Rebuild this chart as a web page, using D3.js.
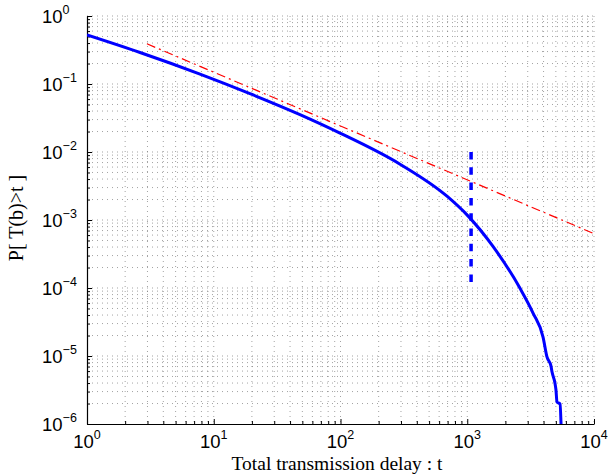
<!DOCTYPE html>
<html>
<head>
<meta charset="utf-8">
<script src="https://cdn.jsdelivr.net/npm/d3@7"></script>
<style>
  body { margin: 0; background: #fff; }
  svg { display: block; }
</style>
</head>
<body>
<div id="chart"></div>
<script>
// data
const ccdfT = [1, 2.62, 7.79, 19.3, 47.9, 99.1, 295, 692, 1000, 1596, 2608, 3304, 3963, 4256, 4579, 4667, 4920, 5012, 5105, 5395, 5495];
const ccdfP = [0.526, 0.2905, 0.1399, 0.0722, 0.0355, 0.019, 0.00662, 0.00224, 0.00118, 0.000409, 9.9e-5, 4.28e-5, 1.9e-5, 9.7e-6, 7.1e-6, 5.8e-6, 4.0e-6, 3.16e-6, 2.1e-6, 1.97e-6, 1e-6];
const fitT = [2.97, 10000];
const fitP = [0.39, 6.3e-4];
const markT = [1072, 1072];
const markP = [0.01, 1.15e-4];
const xDecades = [0, 1, 2, 3, 4];
const yDecades = [0, -1, -2, -3, -4, -5, -6];

const W = 608, H = 476;
const margin = { top: 16, right: 14, bottom: 52, left: 87 };
const width = W - margin.left - margin.right,
      height = H - margin.top - margin.bottom;

const svg = d3.select("#chart").append("svg")
  .attr("width", W).attr("height", H);

const g = svg.append("g")
  .attr("transform", `translate(${margin.left},${margin.top})`);

const x = d3.scaleLog().domain([1, 1e4]).range([0, width]);
const y = d3.scaleLog().domain([1e-6, 1]).range([height, 0]);

// minor + major tick values
const xTicksAll = [];
for (let e = 0; e < 4; e++) for (let m = 1; m < 10; m++) xTicksAll.push(m * Math.pow(10, e));
xTicksAll.push(1e4);
const yTicksAll = [];
for (let e = -6; e < 0; e++) for (let m = 1; m < 10; m++) yTicksAll.push(m * Math.pow(10, e));
yTicksAll.push(1);
const isMajor = v => Math.abs(Math.log10(v) - Math.round(Math.log10(v))) < 1e-9;

// dotted grid
const grid = g.append("g")
  .attr("stroke", "#000").attr("stroke-width", 0.6)
  .attr("stroke-dasharray", "1,4").attr("opacity", 0.6);
grid.selectAll("line.vx").data(xTicksAll.slice(1)).join("line")
  .attr("x1", d => x(d)).attr("x2", d => x(d))
  .attr("y1", 0).attr("y2", height);
grid.selectAll("line.hy").data(yTicksAll.slice(1)).join("line")
  .attr("y1", d => y(d)).attr("y2", d => y(d))
  .attr("x1", 0).attr("x2", width);

// axes (ticks pointing inward, no box)
const axL = g.append("g")
  .call(d3.axisLeft(y).tickValues(yTicksAll).tickFormat("").tickSizeOuter(0)
    .tickSizeInner(-3));
axL.selectAll(".tick line").attr("x2", d => isMajor(d) ? 5 : 3);
const axB = g.append("g").attr("transform", `translate(0,${height})`)
  .call(d3.axisBottom(x).tickValues(xTicksAll).tickFormat("").tickSizeOuter(0)
    .tickSizeInner(-3));
axB.selectAll(".tick line").attr("y2", d => isMajor(d) ? -5 : -3);
g.selectAll(".domain").attr("stroke", "#000").attr("stroke-width", 1.2);

// tick labels with superscripts
const tickFont = "'Liberation Sans', Arial, Helvetica, sans-serif";
const supText = e => (e < 0 ? "\u2212" + (-e) : String(e));

const yl = g.append("g").attr("font-family", tickFont).attr("fill", "#000");
yDecades.forEach(e => {
  const t = yl.append("text")
    .attr("x", 42 - margin.left).attr("y", y(Math.pow(10, e)) + 7)
    .attr("font-size", 18.5);
  t.append("tspan").text("10");
  t.append("tspan").attr("font-size", 12.5).attr("dy", -9).text(supText(e));
});

const xl = g.append("g").attr("font-family", tickFont).attr("fill", "#000");
xDecades.forEach(e => {
  const t = xl.append("text")
    .attr("x", x(Math.pow(10, e))).attr("y", height + 24)
    .attr("text-anchor", "middle")
    .attr("font-size", 18.5);
  t.append("tspan").text("10");
  t.append("tspan").attr("font-size", 12.5).attr("dy", -9).text(supText(e));
});

// axis titles
const titleFont = "'Liberation Serif', 'Times New Roman', Times, serif";
svg.append("text")
  .attr("x", 337).attr("y", 470)
  .attr("text-anchor", "middle")
  .attr("font-family", titleFont).attr("font-size", 19.5)
  .text("Total transmission delay : t");
svg.append("text")
  .attr("transform", "translate(23,218) rotate(-90)")
  .attr("text-anchor", "middle")
  .attr("font-family", titleFont).attr("font-size", 20)
  .text("P[ T(b)>t ]");

// series
g.append("clipPath").attr("id", "clip")
  .append("rect").attr("width", width).attr("height", height + 2);

const line = d3.line().x(d => x(d[0])).y(d => y(d[1]));
const smooth = d3.line().x(d => x(d[0])).y(d => y(d[1])).curve(d3.curveMonotoneX);

g.append("path")
  .datum(d3.zip(fitT, fitP))
  .attr("d", line)
  .attr("fill", "none").attr("stroke", "#ff0000").attr("stroke-width", 1.2)
  .attr("stroke-dasharray", "9,4,2,4");

g.append("path")
  .datum(d3.zip(markT, markP))
  .attr("d", line)
  .attr("fill", "none").attr("stroke", "#0000ff").attr("stroke-width", 3.5)
  .attr("stroke-dasharray", "7.5,7.8");

g.append("path")
  .datum(d3.zip(ccdfT, ccdfP))
  .attr("d", smooth)
  .attr("clip-path", "url(#clip)")
  .attr("fill", "none").attr("stroke", "#0000ff").attr("stroke-width", 3)
  .attr("stroke-linejoin", "round");
</script>
</body>
</html>
